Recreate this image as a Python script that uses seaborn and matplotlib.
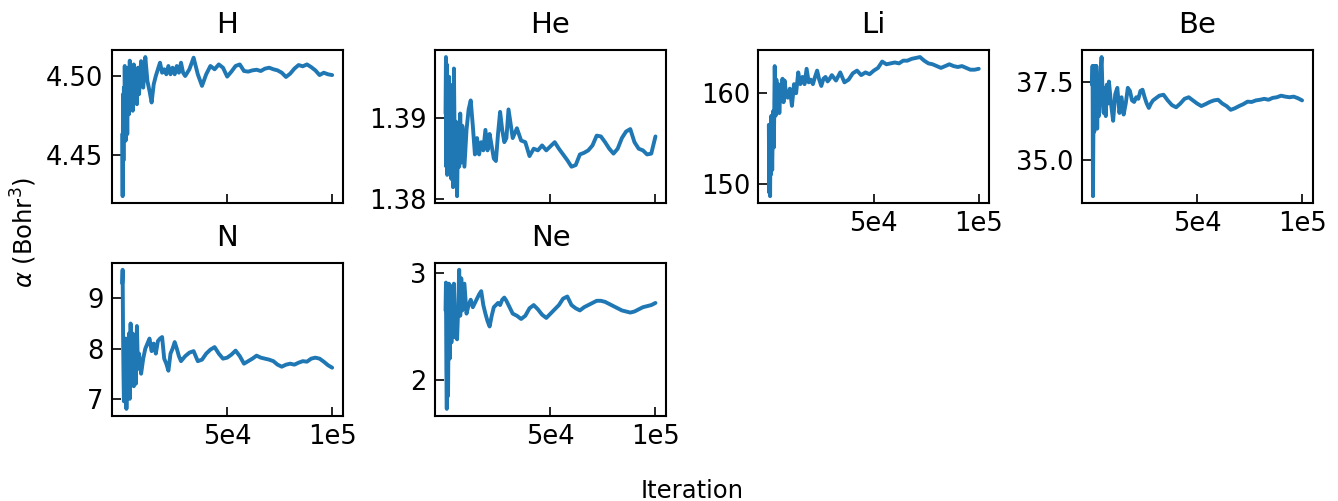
import numpy as np
import pandas as pd
import seaborn as sns
import matplotlib
matplotlib.use("Agg")
import matplotlib.pyplot as plt

iters = [0, 200, 400, 600, 800, 1000, 1200, 1600, 2000, 2400, 2800, 3200, 3600, 4000,
         4500, 5000, 5500, 6000, 6500, 7000, 7500, 8000, 9000, 10000, 11000, 12000,
         13000, 14000, 15000, 16000, 17000, 18000, 19000, 20000, 21000, 22000, 23000,
         24000, 25000, 26000, 27000, 28000, 29000, 30000, 32000, 34000, 36000, 38000,
         40000, 42000, 44000, 46000, 48000, 50000, 52000, 54000, 56000, 58000, 60000,
         62000, 64000, 66000, 68000, 70000, 72000, 74000, 76000, 78000, 80000, 82000,
         84000, 86000, 88000, 90000, 92000, 94000, 96000, 98000, 100000]

alpha_H = [4.463, 4.4235, 4.4886, 4.4462, 4.4928, 4.4674, 4.5066, 4.4589, 4.4992, 4.4631,
           4.5055, 4.4758, 4.510, 4.4843, 4.5055, 4.478, 4.5076, 4.4864, 4.5013, 4.4822,
           4.5055, 4.4886, 4.5097, 4.4928, 4.5123, 4.497, 4.4907, 4.4833, 4.4949, 4.5002,
           4.5045, 4.5087, 4.5023, 4.5045, 4.5013, 4.5066, 4.5013, 4.5055, 4.5013, 4.5066,
           4.5023, 4.5087, 4.5023, 4.5002, 4.5045, 4.5119, 4.5013, 4.4939, 4.5013, 4.5066,
           4.5045, 4.5076, 4.5055, 4.4998, 4.503, 4.5066, 4.5076, 4.5034, 4.503, 4.5038,
           4.5042, 4.5034, 4.5049, 4.5055, 4.5045, 4.5038, 4.5023, 4.4996, 4.5017, 4.5049,
           4.5072, 4.5064, 4.5076, 4.5059, 4.5038, 4.5008, 4.5023, 4.5013, 4.5008]

alpha_He = [1.3905, 1.3974, 1.384, 1.3965, 1.383, 1.392, 1.385, 1.395, 1.3835, 1.394,
            1.3825, 1.3905, 1.3815, 1.396, 1.383, 1.3895, 1.3804, 1.389, 1.384, 1.3905,
            1.3845, 1.389, 1.384, 1.3885, 1.391, 1.3921, 1.389, 1.3855, 1.3875, 1.3855,
            1.387, 1.386, 1.3885, 1.386, 1.388, 1.3865, 1.385, 1.3847, 1.388, 1.3907,
            1.3885, 1.387, 1.3875, 1.391, 1.3875, 1.3887, 1.3872, 1.387, 1.3853, 1.3862,
            1.386, 1.3866, 1.386, 1.3865, 1.387, 1.3862, 1.3855, 1.3848, 1.384, 1.3842,
            1.3855, 1.3857, 1.386, 1.3866, 1.3878, 1.3877, 1.387, 1.3862, 1.3856, 1.3862,
            1.3875, 1.3883, 1.3886, 1.387, 1.3862, 1.386, 1.3855, 1.3856, 1.3877]

alpha_Li = [156.5, 149.0, 156.0, 148.6, 155.5, 151.0, 157.5, 151.5, 158.0, 154.0,
            163.0, 157.5, 161.5, 158.0, 161.0, 157.8, 160.5, 159.5, 161.6, 159.0,
            161.4, 160.3, 159.5, 160.5, 158.6, 161.0, 160.0, 162.3, 161.0, 161.8,
            161.0, 162.7, 161.2, 161.5, 161.0, 161.8, 162.5, 161.5, 160.8, 161.6,
            161.8, 161.3, 161.6, 162.0, 161.4, 162.3, 161.2, 161.5, 162.2, 162.5,
            162.0, 162.3, 162.1, 162.5, 162.8, 163.5, 163.2, 163.3, 163.4, 163.3,
            163.6, 163.6, 163.8, 163.9, 164.0, 163.6, 163.3, 163.2, 163.0, 162.8,
            163.0, 163.2, 163.0, 162.9, 163.0, 162.8, 162.6, 162.6, 162.7]

alpha_Be = [37.4, 38.0, 33.85, 36.0, 37.9, 35.9, 38.0, 36.5, 38.0, 36.0,
            37.5, 36.4, 37.0, 37.8, 38.28, 37.0, 36.5, 37.3, 36.4, 37.4,
            36.8, 37.5, 36.8, 36.25, 37.1, 37.3, 36.5, 37.0, 36.45, 36.8,
            37.3, 37.2, 36.9, 36.85, 37.0, 36.95, 37.2, 37.24, 37.0, 36.8,
            36.66, 36.8, 36.9, 36.95, 37.05, 37.08, 36.9, 36.75, 36.68, 36.8,
            36.95, 37.0, 36.9, 36.8, 36.72, 36.78, 36.85, 36.9, 36.92, 36.8,
            36.72, 36.6, 36.65, 36.72, 36.78, 36.86, 36.85, 36.9, 36.92, 36.95,
            36.92, 36.98, 37.0, 37.05, 37.02, 37.0, 37.02, 36.97, 36.9]

alpha_N = [9.3, 9.57, 8.3, 7.5, 6.95, 8.2, 7.0, 8.2, 6.8, 7.8,
           7.3, 8.3, 7.0, 8.5, 7.3, 8.3, 7.25, 8.0, 7.3, 8.45,
           7.6, 7.9, 7.5, 7.8, 8.0, 8.1, 8.2, 7.95, 8.1, 7.9,
           8.15, 8.2, 8.23, 7.8, 7.7, 7.56, 7.9, 8.0, 8.13, 8.0,
           7.85, 7.75, 7.8, 7.85, 7.92, 7.95, 7.75, 7.78, 7.9, 7.98,
           8.03, 7.9, 7.8, 7.82, 7.88, 7.96, 7.85, 7.7, 7.75, 7.8,
           7.86, 7.82, 7.8, 7.78, 7.75, 7.68, 7.64, 7.68, 7.7, 7.68,
           7.72, 7.75, 7.74, 7.8, 7.82, 7.8, 7.74, 7.67, 7.62]

alpha_Ne = [2.65, 2.91, 2.1, 1.73, 2.4, 2.85, 1.85, 2.9, 2.2, 2.88,
            2.35, 2.8, 2.45, 2.9, 2.4, 2.6, 2.38, 2.65, 3.03, 2.6,
            2.95, 2.65, 2.9, 2.62, 2.7, 2.75, 2.68, 2.72, 2.76, 2.8,
            2.83, 2.7, 2.62, 2.55, 2.5, 2.6, 2.68, 2.7, 2.72, 2.7,
            2.75, 2.77, 2.74, 2.7, 2.62, 2.6, 2.57, 2.6, 2.67, 2.7,
            2.66, 2.61, 2.58, 2.62, 2.66, 2.7, 2.76, 2.78, 2.7, 2.67,
            2.65, 2.68, 2.7, 2.72, 2.74, 2.74, 2.73, 2.71, 2.69, 2.67,
            2.65, 2.64, 2.63, 2.64, 2.66, 2.68, 2.69, 2.7, 2.72]

elements = ["H", "He", "Li", "Be", "N", "Ne"]
series = [alpha_H, alpha_He, alpha_Li, alpha_Be, alpha_N, alpha_Ne]
yticks = [[4.45, 4.50], [1.38, 1.39], [150, 160], [35.0, 37.5], [7, 8, 9], [2, 3]]
ytick_labels = [["4.45", "4.50"], ["1.38", "1.39"], ["150", "160"], ["35.0", "37.5"],
                ["7", "8", "9"], ["2", "3"]]
xticks = [5e4, 1e5]
xtick_labels = ["5e4", "1e5"]

sns.set_style("white")
plt.rcParams["font.family"] = ["DejaVu Sans"]
plt.rcParams["text.color"] = "black"
plt.rcParams["axes.labelcolor"] = "black"
plt.rcParams["xtick.color"] = "black"
plt.rcParams["ytick.color"] = "black"

fig, axes = plt.subplots(2, 4, figsize=(13.38, 5.01), dpi=100)
fig.subplots_adjust(left=0.0835, right=0.981, top=0.900, bottom=0.170,
                    wspace=0.40, hspace=0.39)

for i, ax in enumerate(axes.flat):
    if i >= len(elements):
        ax.axis("off")
        continue
    df = pd.DataFrame({"Iteration": iters, "alpha": series[i]})
    sns.lineplot(data=df, x="Iteration", y="alpha", ax=ax, color="#1f77b4",
                 linewidth=2.8, sort=False)
    ax.set_title(elements[i], fontsize=21, pad=12, color="black")
    ax.set_xlabel("")
    ax.set_ylabel("")
    ax.set_xticks(xticks)
    ax.set_yticks(yticks[i])
    ax.set_yticklabels(ytick_labels[i])
    # top row left two panels have a panel below them -> no x labels
    if i in (0, 1):
        ax.set_xticklabels([])
    else:
        ax.set_xticklabels(xtick_labels)
    ax.tick_params(direction="in", length=6.5, width=1.2, labelsize=18.5, pad=6,
                   bottom=True, left=True, colors="black")
    for sp in ax.spines.values():
        sp.set_linewidth(1.5)
        sp.set_color("black")

fig.text(0.018, 0.537, r"$\alpha$ (Bohr$^3$)", rotation=90, ha="center", va="center",
         fontsize=17.5, color="black")
fig.text(0.517, 0.006, "Iteration", ha="center", va="baseline", fontsize=17.5,
         color="black")

fig.savefig("out.png", dpi=100)
